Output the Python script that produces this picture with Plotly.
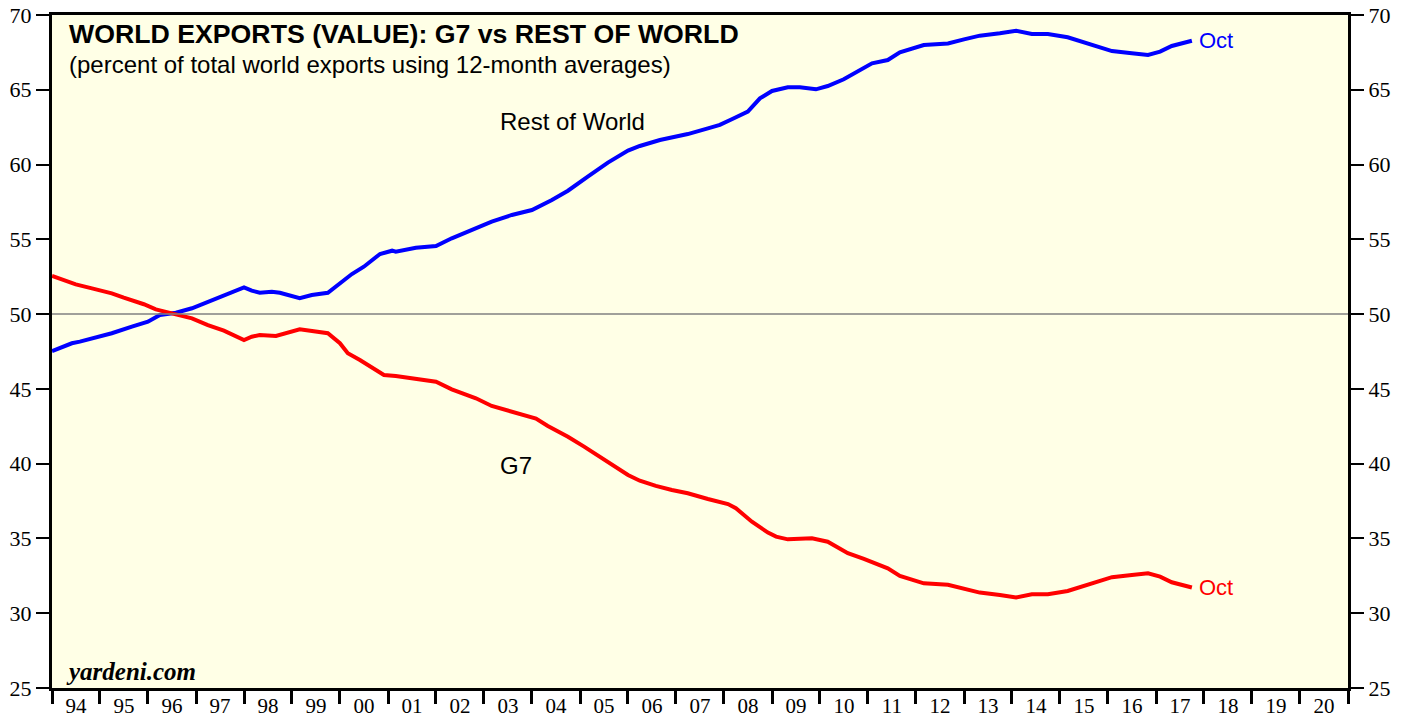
import plotly.graph_objects as go

# Rest of World share of world exports (%), 12-month averages
row_dates = [
    "1994-01", "1994-06", "1994-08", "1995-01", "1995-04", "1995-09", "1996-01", "1996-04",
    "1996-08", "1996-12", "1997-04", "1997-08", "1998-01", "1998-03", "1998-05", "1998-08",
    "1998-10", "1999-03", "1999-06", "1999-10", "2000-01", "2000-04", "2000-07", "2000-11",
    "2001-02", "2001-03", "2001-08", "2002-01", "2002-05", "2002-10", "2003-03", "2003-08",
    "2004-01", "2004-06", "2004-10", "2005-03", "2005-08", "2006-01", "2006-04", "2006-09",
    "2006-12", "2007-04", "2007-09", "2007-12", "2008-03", "2008-07", "2008-10", "2009-01",
    "2009-05", "2009-08", "2009-12", "2010-03", "2010-07", "2010-10", "2011-02", "2011-06",
    "2011-09", "2012-03", "2012-09", "2013-01", "2013-05", "2013-10", "2014-02", "2014-06",
    "2014-10", "2015-03", "2015-07", "2015-11", "2016-02", "2016-07", "2016-11", "2017-02",
    "2017-05", "2017-10",
]
row_values = [
    47.53, 48.05, 48.16, 48.49, 48.72, 49.16, 49.49, 49.94,
    50.09, 50.39, 50.83, 51.28, 51.79, 51.57, 51.43, 51.50,
    51.43, 51.06, 51.28, 51.43, 52.06, 52.68, 53.17, 54.02,
    54.24, 54.17, 54.44, 54.55, 55.07, 55.62, 56.18, 56.63,
    56.96, 57.63, 58.25, 59.19, 60.13, 60.93, 61.24, 61.64,
    61.82, 62.04, 62.42, 62.65, 63.03, 63.54, 64.43, 64.92,
    65.17, 65.17, 65.03, 65.25, 65.70, 66.14, 66.77, 66.99,
    67.50, 67.99, 68.10, 68.37, 68.62, 68.78, 68.95, 68.73,
    68.73, 68.51, 68.17, 67.84, 67.59, 67.44, 67.33, 67.55,
    67.93, 68.28,
]

# G7 share of world exports (%)
g7_dates = [
    "1994-01", "1994-04", "1994-07", "1994-11", "1995-04", "1995-07", "1995-12", "1996-03",
    "1996-07", "1996-12", "1997-04", "1997-08", "1998-01", "1998-03", "1998-05", "1998-09",
    "1999-03", "1999-07", "1999-10", "2000-01", "2000-03", "2000-06", "2000-10", "2000-12",
    "2001-03", "2001-08", "2002-01", "2002-05", "2002-11", "2003-03", "2003-09", "2004-02",
    "2004-05", "2004-10", "2005-02", "2005-08", "2006-01", "2006-04", "2006-08", "2006-12",
    "2007-04", "2007-09", "2008-02", "2008-04", "2008-08", "2008-12", "2009-02", "2009-05",
    "2009-11", "2010-03", "2010-08", "2010-12", "2011-06", "2011-09", "2012-03", "2012-09",
    "2013-01", "2013-05", "2013-10", "2014-02", "2014-06", "2014-10", "2015-03", "2015-07",
    "2015-11", "2016-02", "2016-07", "2016-11", "2017-02", "2017-05", "2017-10",
]
g7_values = [
    52.55, 52.28, 51.99, 51.72, 51.39, 51.10, 50.66, 50.32,
    50.05, 49.72, 49.27, 48.89, 48.27, 48.49, 48.60, 48.54,
    48.98, 48.82, 48.72, 48.05, 47.38, 46.93, 46.26, 45.93,
    45.86, 45.64, 45.48, 44.97, 44.37, 43.86, 43.37, 43.01,
    42.52, 41.80, 41.14, 40.13, 39.24, 38.86, 38.51, 38.24,
    38.02, 37.64, 37.30, 37.02, 36.12, 35.39, 35.12, 34.94,
    35.01, 34.78, 34.01, 33.63, 33.00, 32.50, 32.00, 31.90,
    31.63, 31.38, 31.22, 31.05, 31.27, 31.27, 31.49, 31.83,
    32.16, 32.41, 32.56, 32.67, 32.45, 32.07, 31.72,
]

SERIF = "Liberation Serif, Times New Roman, serif"
SANS = "Liberation Sans, Arial, Helvetica, sans-serif"

fig = go.Figure()

fig.add_trace(go.Scatter(
    x=row_dates, y=row_values, mode="lines", name="Rest of World",
    line=dict(color="#0000FF", width=4), showlegend=False,
))
fig.add_trace(go.Scatter(
    x=g7_dates, y=g7_values, mode="lines", name="G7",
    line=dict(color="#FF0000", width=4), showlegend=False,
))
# invisible trace so the right-hand axis gets drawn
fig.add_trace(go.Scatter(
    x=row_dates[:1], y=row_values[:1], yaxis="y2", mode="lines",
    line=dict(width=0), opacity=0, showlegend=False, hoverinfo="skip",
))

fig.add_hline(y=50, line_color="#808080", line_width=1.5)

# labels
fig.add_annotation(x=0.0116, y=0.972, xref="paper", yref="paper", xanchor="left",
                   yanchor="middle", showarrow=False,
                   text="<b>WORLD EXPORTS (VALUE): G7 vs REST OF WORLD</b>",
                   font=dict(family=SANS, size=26.7, color="black"))
fig.add_annotation(x=0.0116, y=0.926, xref="paper", yref="paper", xanchor="left",
                   yanchor="middle", showarrow=False,
                   text="(percent of total world exports using 12-month averages)",
                   font=dict(family=SANS, size=24, color="black"))
fig.add_annotation(x="2003-04-20", y=62.9, xanchor="left", yanchor="middle",
                   showarrow=False, text="Rest of World",
                   font=dict(family=SANS, size=24, color="black"))
fig.add_annotation(x="2003-04-20", y=39.85, xanchor="left", yanchor="middle",
                   showarrow=False, text="G7",
                   font=dict(family=SANS, size=24, color="black"))
fig.add_annotation(x=row_dates[-1], y=row_values[-1], xanchor="left", yanchor="middle",
                   xshift=5, showarrow=False, text="Oct",
                   font=dict(family=SANS, size=22, color="#0000FF"))
fig.add_annotation(x=g7_dates[-1], y=g7_values[-1], xanchor="left", yanchor="middle",
                   xshift=5, showarrow=False, text="Oct",
                   font=dict(family=SANS, size=22, color="#FF0000"))
fig.add_annotation(x=0.009, y=0.024, xref="paper", yref="paper", xanchor="left",
                   yanchor="middle", showarrow=False, text="<b><i>yardeni.com</i></b>",
                   font=dict(family=SERIF, size=25, color="black"))

yaxis_common = dict(
    range=[25, 70], dtick=5, tick0=25, showgrid=False, zeroline=False,
    ticks="outside", ticklen=13, tickwidth=2, tickcolor="black",
    tickfont=dict(family=SERIF, size=22, color="black"),
    showline=True, linewidth=3, linecolor="black", automargin=False,
)

fig.update_layout(
    width=1408, height=719,
    margin=dict(l=52, r=60, t=15, b=31),
    paper_bgcolor="white",
    plot_bgcolor="#FFFFE6",
    xaxis=dict(
        type="date", range=["1994-01-01", "2021-01-01"],
        dtick="M12", tick0="1994-01-01", tickformat="%y",
        ticklabelmode="period", ticks="outside", ticklen=13, tickwidth=3,
        tickcolor="black", showgrid=False, zeroline=False,
        showline=True, linewidth=3, linecolor="black", mirror=True,
        tickfont=dict(family=SERIF, size=21, color="black"),
        ticklabelstandoff=-16, automargin=False,
    ),
    yaxis=dict(side="left", **yaxis_common),
    yaxis2=dict(side="right", overlaying="y", matches="y", **yaxis_common),
)

# drop the browser's default 8px body margin so the figure fills the window
fig.write_html("out.html", config={"displayModeBar": False},
               post_script="document.body.style.margin = '0';")
